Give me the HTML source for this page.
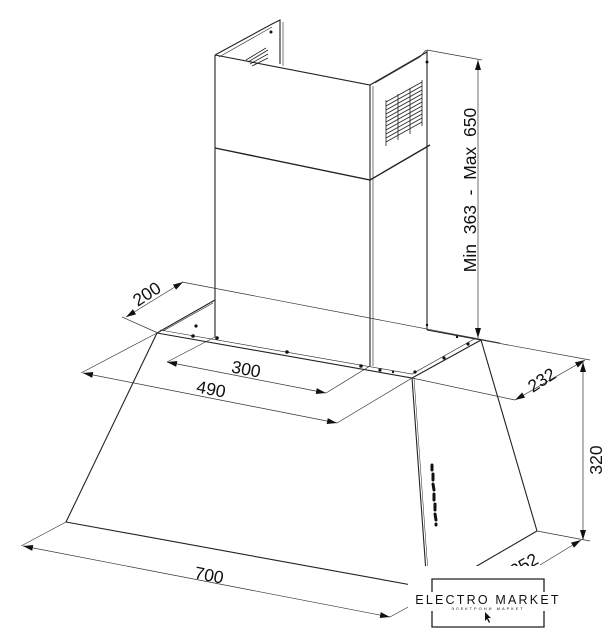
<!DOCTYPE html>
<html><head><meta charset="utf-8"><style>
html,body{margin:0;padding:0;background:#fff;}
svg{display:block;}
text{font-family:"Liberation Sans",sans-serif;fill:#111;}
</style></head><body>
<svg width="604" height="640" viewBox="0 0 604 640" xmlns="http://www.w3.org/2000/svg">
<defs>
<marker id="a" viewBox="0 0 10 6" refX="10" refY="3" markerWidth="10" markerHeight="6" orient="auto-start-reverse" markerUnits="userSpaceOnUse"><path d="M0,0 L10,3 L0,6 z" fill="#111"/></marker>
</defs>
<g stroke="#222" fill="none" stroke-width="1.1">
<path d="M215,55 L215,337"/>
<path d="M370,85 L370,366"/><path d="M373,86 L373,366" stroke-width="0.6"/>
<path d="M427,50 L427,330"/>
<path d="M215,55 L370,85 L427,52"/>
<path d="M215,55 L272,24 L280,20 L280,64"/>
<path d="M283,22 L283,66" stroke-width="0.6"/>
<path d="M219,57 L272,27" stroke-width="0.6"/>
<path d="M375,83 L420,57 L426,50" stroke-width="0.6"/>
<path d="M215,148 L370,180 L430,145" stroke-width="1.4"/>
<g stroke-width="0.8">
<path d="M386,102 L422,82"/><path d="M386,106 L422,86"/><path d="M386,110 L422,90"/><path d="M386,114 L422,94"/><path d="M386,118 L422,98"/><path d="M386,122 L422,102"/><path d="M386,126 L422,106"/><path d="M386,130 L422,110"/><path d="M386,134 L422,114"/><path d="M386,138 L422,118"/><path d="M386,142 L422,122"/>
<path d="M386,100 L386,146"/><path d="M398,94 L398,140"/><path d="M410,88 L410,134"/><path d="M422,80 L422,126"/>
<path d="M248,62 L268,50"/><path d="M250,64 L268,54"/><path d="M252,66 L268,58"/><path d="M246,60 L266,48"/>
</g>
<path d="M157,333 L412,378 L481,340"/>
<path d="M160,330 L412,374 L476,338" stroke-width="0.6"/>
<path d="M157,333 L215,300"/><path d="M163,331 L213,303" stroke-width="0.6"/>
<path d="M427,330 L481,340"/>
<path d="M157,333 L66,522 L428,588"/>
<path d="M412,378 L428,600"/><path d="M414,378 L430,600" stroke-width="0.5"/>
<path d="M481,340 L537,531 L470,570"/>
</g>
<g fill="#111">
<circle cx="193" cy="336" r="1.8"/><circle cx="217" cy="338" r="1.8"/><circle cx="287" cy="352" r="1.8"/><circle cx="361" cy="366" r="1.8"/><circle cx="380" cy="370" r="1.6"/><circle cx="393" cy="372" r="1.2"/><circle cx="415" cy="372" r="1.6"/><circle cx="444" cy="358" r="1.6"/><circle cx="468" cy="344" r="1.6"/><circle cx="457" cy="337" r="1.2"/><circle cx="196" cy="326" r="1.6"/><circle cx="427" cy="325" r="1.2"/><circle cx="427" cy="62" r="1.5"/><circle cx="271" cy="32" r="1.5"/>
</g>
<g stroke="#111" stroke-width="3" stroke-linecap="round">
<path d="M432,465 L432,470 M433,474 L433,480 M433,484 L434,490 M434,494 L434,500 M435,504 L435,510 M435,514 L436,520 M436,524 L436,525"/>
</g>
<g stroke="#333" stroke-width="0.7" fill="none">
<path d="M182,282 L500,343"/><path d="M122,317 L158,333"/>
<path d="M126,317 L183,282" marker-start="url(#a)" marker-end="url(#a)"/>
<path d="M167,362 L215,337"/><path d="M326,393 L370,366"/>
<path d="M167,362 L326,393" marker-start="url(#a)" marker-end="url(#a)"/>
<path d="M81,373 L157,333"/><path d="M337,423 L412,378"/>
<path d="M83,373 L337,423" marker-start="url(#a)" marker-end="url(#a)"/>
<path d="M21,546 L66,522"/><path d="M390,617 L410,606"/>
<path d="M23,546 L390,617" marker-start="url(#a)" marker-end="url(#a)"/>
<path d="M481,340 L590,360"/><path d="M412,378 L515,400"/>
<path d="M515,400 L585,360" marker-start="url(#a)" marker-end="url(#a)"/>
<path d="M537,531 L590,541"/>
<path d="M583,362 L583,540" marker-start="url(#a)" marker-end="url(#a)"/>
<path d="M581,540 L540,565" marker-start="url(#a)"/>
<path d="M427,50 L482,60"/>
<path d="M478,60 L478,338" marker-start="url(#a)" marker-end="url(#a)"/>
</g>
<g font-size="17.5">
<text transform="translate(150,299) rotate(-33)" text-anchor="middle">200</text>
<text transform="translate(245,375) rotate(11)" text-anchor="middle">300</text>
<text transform="translate(210,395) rotate(11)" text-anchor="middle">490</text>
<text transform="translate(208,581) rotate(11)" text-anchor="middle">700</text>
<text transform="translate(545,385) rotate(-33)" text-anchor="middle">232</text>
<text transform="translate(602,460) rotate(-90)" text-anchor="middle">320</text>
<text transform="translate(527,570) rotate(-30)" text-anchor="middle">252</text>
<text transform="translate(476,190) rotate(-90)" text-anchor="middle" xml:space="preserve">Min  363  -  Max  650</text>
</g>
<rect x="408" y="566" width="196" height="74" fill="#fff"/>
<g stroke="#222" stroke-width="1.3" fill="none">
<path d="M432,592 L432,579 L544,579 L544,592"/>
<path d="M432,611 L432,627 L544,627 L544,611"/>
</g>
<text x="488" y="604" font-size="12.5" text-anchor="middle" letter-spacing="2.2">ELECTRO MARKET</text>
<text x="488" y="610" font-size="4" text-anchor="middle" letter-spacing="2">ЭЛЕКТРОНИ МАРКЕТ</text>
<path d="M485,612 L485,621 L487,619 L489,623 L490,622 L488,618 L491,618 z" fill="#111"/>
</svg>
</body></html>
